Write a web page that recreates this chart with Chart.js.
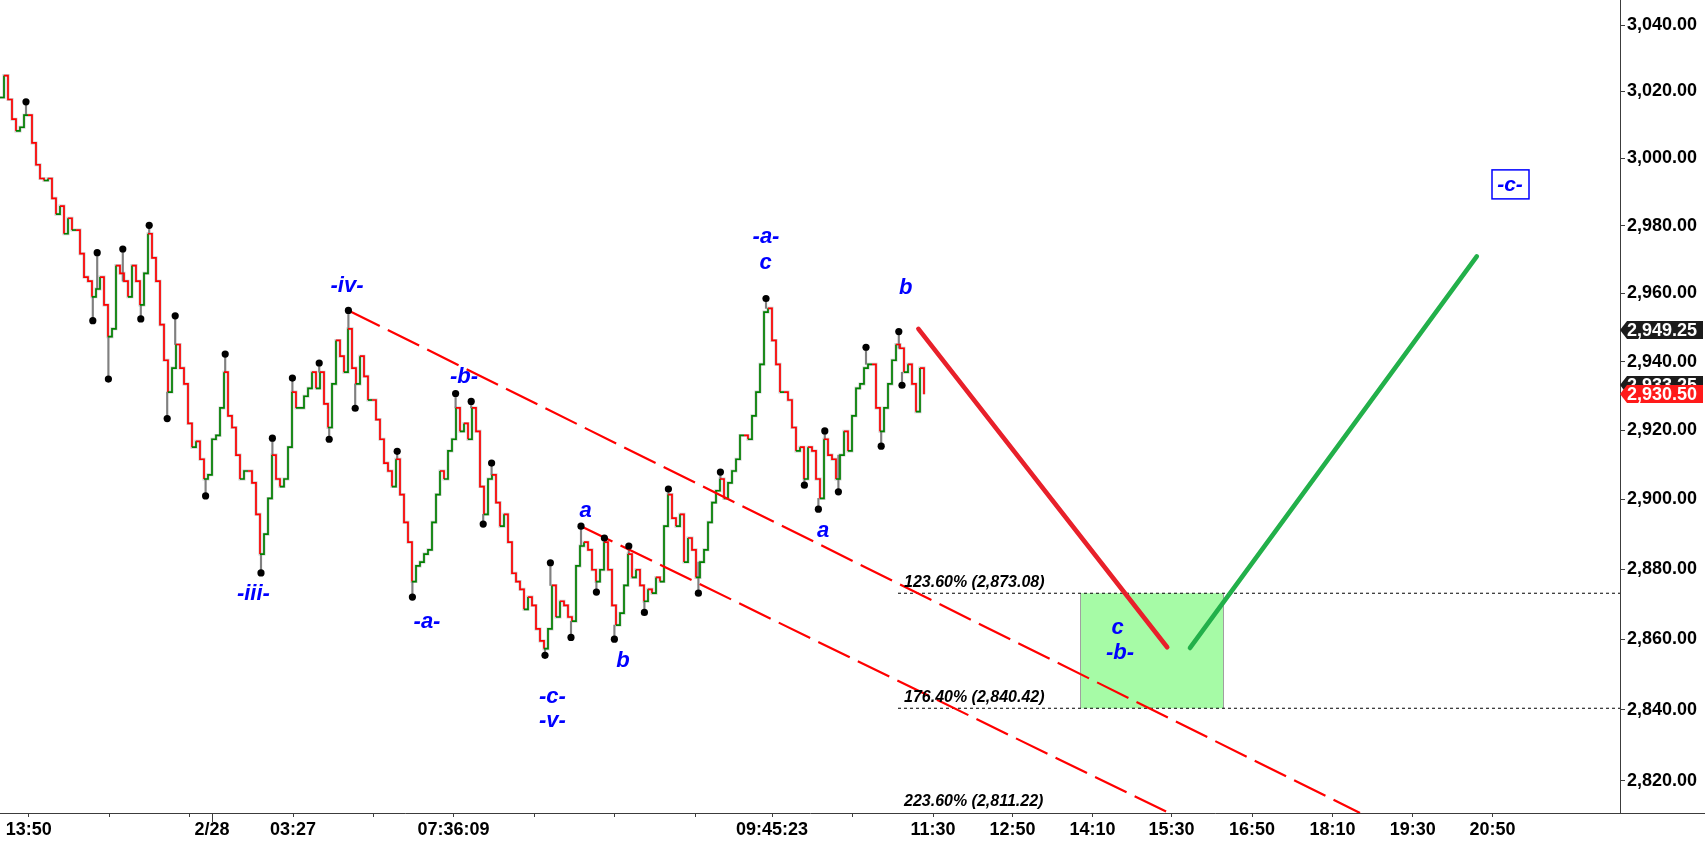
<!DOCTYPE html>
<html>
<head>
<meta charset="utf-8">
<script src="https://cdn.jsdelivr.net/npm/chart.js@4.4.1/dist/chart.umd.min.js"></script>
<style>
  html, body { margin: 0; padding: 0; background: #fff; }
  canvas { display: block; }
</style>
</head>
<body>
<canvas id="chart" width="1705" height="841"></canvas>
<script>
// closing prices, one bar per x unit
const closes = [
  3018.2, 3024.8, 3017.6, 3011.7, 3008.2, 3009.3, 3012.9, 3012.9, 3004.6, 2998.1, 2994.0, 2993.4,
  2994.0, 2988.1, 2983.4, 2985.8, 2977.6, 2982.2, 2978.7, 2978.7, 2971.7, 2964.8, 2963.6, 2959.0,
  2961.3, 2964.8, 2956.6, 2947.3, 2949.6, 2968.2, 2965.9, 2963.6, 2959.0, 2968.2, 2963.6, 2956.6,
  2965.9, 2977.6, 2970.5, 2963.6, 2950.8, 2940.4, 2931.1, 2938.1, 2945.0, 2938.1, 2933.5, 2922.0,
  2915.1, 2916.8, 2911.6, 2905.9, 2907.1, 2917.4, 2918.5, 2926.5, 2936.9, 2924.2, 2920.8, 2912.8,
  2905.9, 2908.2, 2908.2, 2904.8, 2895.7, 2884.3, 2890.0, 2900.3, 2912.8, 2905.9, 2903.7, 2905.9,
  2915.1, 2931.1, 2926.5, 2926.5, 2929.9, 2932.2, 2936.9, 2932.2, 2936.9, 2927.7, 2920.8, 2933.5,
  2946.2, 2941.6, 2936.9, 2949.6, 2938.1, 2933.5, 2941.6, 2935.7, 2928.8, 2928.8,
  2923.1, 2917.4, 2910.5, 2908.2, 2903.7, 2911.6, 2901.4, 2893.4, 2887.7, 2876.4, 2880.9, 2882.0,
  2884.3, 2885.5, 2893.4, 2901.4, 2908.2, 2905.9, 2914.0, 2917.4, 2926.5, 2919.7, 2922.0, 2917.4,
  2926.5, 2919.7, 2903.7, 2895.7, 2905.9, 2907.1, 2899.1, 2892.3, 2895.7, 2887.7, 2878.8, 2876.4,
  2874.2, 2868.5, 2872.0, 2869.6, 2862.9, 2859.5, 2857.3, 2862.9, 2875.3, 2866.3,
  2870.8, 2869.6, 2866.3, 2865.1, 2880.9, 2886.6, 2887.7, 2885.5, 2879.8, 2876.4, 2879.8, 2887.7,
  2879.8, 2869.6, 2864.0, 2867.4, 2875.3, 2884.3, 2877.6, 2879.8, 2875.3, 2870.8, 2874.2, 2873.1,
  2877.6, 2876.4, 2892.3, 2901.4, 2894.6, 2892.3, 2895.7, 2882.0, 2888.9, 2885.5, 2877.6, 2882.0,
  2885.5, 2893.4, 2899.1, 2902.5, 2905.9, 2900.3, 2904.8, 2908.2, 2911.6, 2918.5,
  2918.5, 2917.4, 2924.2, 2931.1, 2939.2, 2954.5, 2955.6, 2946.2, 2939.2, 2931.1, 2931.1, 2928.8,
  2920.8, 2914.0, 2915.1, 2905.9, 2915.1, 2914.0, 2905.9, 2900.3, 2917.4, 2912.8, 2911.6, 2905.9,
  2912.8, 2919.7, 2914.0, 2924.2, 2932.2, 2933.5, 2938.1, 2939.2, 2939.2, 2926.5, 2919.7, 2926.5,
  2933.5, 2940.4, 2945.0, 2943.9, 2936.9, 2939.2, 2933.5, 2925.4, 2938.1, 2930.5
];

// swing highs / lows (black dots)
const swingX = [6.5, 23.2, 24.3, 27.1, 30.7, 35.2, 37.3, 41.8, 43.8, 51.4, 56.3, 65.25, 68.1, 73.1,
  79.8, 82.3, 87.1, 88.8, 99.3, 103.1, 113.9, 117.8, 120.8, 122.9, 136.25, 137.6, 142.75, 145.25,
  149.1, 151.1, 153.6, 157.2, 161.1, 167.1, 174.6, 180.1, 191.5, 201.1, 204.6, 206.2, 209.6, 216.5,
  220.3, 224.7, 225.5];
const swingY = [3016.9, 2952.0, 2972.0, 2934.9, 2973.1, 2952.5, 2980.1, 2923.4, 2953.4, 2901.0, 2942.2,
  2878.9, 2917.7, 2935.2, 2939.6, 2917.4, 2955.0, 2926.4, 2913.9, 2872.0, 2930.7, 2928.4, 2892.9,
  2910.5, 2855.4, 2881.8, 2860.5, 2892.3, 2873.4, 2888.9, 2860.0, 2886.6, 2867.6, 2903.0, 2873.1,
  2907.9, 2958.5, 2904.1, 2897.2, 2919.8, 2902.2, 2944.2, 2915.4, 2948.8, 2933.1];

// axes
const yTicks = [2820, 2840, 2860, 2880, 2900, 2920, 2940, 2960, 2980, 3000, 3020, 3040];
const xTickPos = [7.2, 27.25, 47.25, 53, 73.25, 93.25, 113.4, 133.5, 153.5, 173.75, 193, 213,
  233.25, 253.1, 273.15, 292.9, 313, 333.15, 353.2, 373.1];
const xTickLabels = ["13:50", "", "", "2/28", "03:27", "", "07:36:09", "", "", "", "09:45:23", "",
  "11:30", "12:50", "14:10", "15:30", "16:50", "18:10", "19:30", "20:50"];

// fibonacci levels
const fibPct = ["123.60%", "176.40%", "223.60%"];
const fibLevels = [2873.08, 2840.42, 2811.22];

// channel lines and projections [x, price]
const channelUpper = [[87.1, 2955.0], [340, 2811.0]];
const channelLower = [[145.25, 2892.3], [292.25, 2811.0]];
const projDown = [[229.6, 2949.6], [291.8, 2857.7]];
const projUp = [[297.5, 2857.5], [369.2, 2970.9]];
const targetZone = [270, 306.1];

// wave labels
const waveText = ["-iv-", "-iii-", "-b-", "-a-", "-c-", "-v-", "a", "b", "-a-", "c", "a", "b", "c", "-b-"];
const waveX = [86.75, 63.35, 116, 106.75, 138.1, 138.1, 146.4, 155.75, 191.5, 191.4, 205.8, 226.4, 279.4, 280];
const waveY = [2962.2, 2873.0, 2935.5, 2865.0, 2843.6, 2836.8, 2896.8, 2853.9, 2976.7, 2969.0, 2890.9, 2961.5, 2863.3, 2856.1];
const boxLabel = ["-c-", 377.5, 2992.4];

// price tags on the right axis
const tagValues = [2949.25, 2933.25, 2930.50];
const tagColors = ["#1c1c1c", "#1c1c1c", "#ff1a1a"];

const FONT = "'Liberation Sans', Arial, sans-serif";
const AXIS = "#3c3c3c";
const fmt = v => v.toLocaleString("en-US", { minimumFractionDigits: 2, maximumFractionDigits: 2 });
const pts = arr => arr.map(p => ({ x: p[0], y: p[1] }));

const overlay = {
  id: "overlay",
  beforeDatasetsDraw(chart) {
    const { ctx, scales: { x, y } } = chart;
    // zone cible verte
    const x0 = Math.round(x.getPixelForValue(targetZone[0]));
    const x1 = Math.round(x.getPixelForValue(targetZone[1]));
    const y0 = y.getPixelForValue(fibLevels[0]);
    const y1 = y.getPixelForValue(fibLevels[1]);
    ctx.save();
    ctx.fillStyle = "#a6fba6";
    ctx.fillRect(x0, y0, x1 - x0, y1 - y0);
    ctx.strokeStyle = "#a0a0a0";
    ctx.lineWidth = 1;
    ctx.beginPath();
    ctx.moveTo(x0 + 0.5, y0); ctx.lineTo(x0 + 0.5, y1);
    ctx.moveTo(x1 - 0.5, y0); ctx.lineTo(x1 - 0.5, y1);
    ctx.stroke();
    ctx.restore();
  },
  afterDatasetsDraw(chart) {
    const { ctx, scales: { x, y } } = chart;
    ctx.save();
    // fib labels
    ctx.fillStyle = "#000";
    ctx.font = "italic bold 16px " + FONT;
    ctx.textAlign = "left";
    ctx.textBaseline = "alphabetic";
    fibLevels.forEach((lv, i) => {
      ctx.fillText(fibPct[i] + " (" + fmt(lv) + ")", x.getPixelForValue(226), y.getPixelForValue(lv) - 6);
    });
    // wave labels
    ctx.fillStyle = "#0000ff";
    ctx.font = "italic bold 22px " + FONT;
    ctx.textAlign = "center";
    ctx.textBaseline = "middle";
    waveText.forEach((t, i) => {
      ctx.fillText(t, x.getPixelForValue(waveX[i]), y.getPixelForValue(waveY[i]));
    });
    // boxed label
    const bx = x.getPixelForValue(boxLabel[1]);
    const by = y.getPixelForValue(boxLabel[2]);
    ctx.fillStyle = "#fff";
    ctx.fillRect(bx - 18, by - 14, 37, 29);
    ctx.strokeStyle = "#0000ff";
    ctx.lineWidth = 1.5;
    ctx.strokeRect(bx - 18, by - 14, 37, 29);
    ctx.fillStyle = "#0000ff";
    ctx.font = "italic bold 21px " + FONT;
    ctx.fillText(boxLabel[0], bx, by + 1);
    ctx.restore();
  },
  afterDraw(chart) {
    const { ctx, chartArea, scales: { x, y } } = chart;
    ctx.save();
    // x axis line continues under the price scale
    ctx.strokeStyle = AXIS;
    ctx.lineWidth = 1;
    ctx.beginPath();
    ctx.moveTo(chartArea.right, chartArea.bottom + 0.5);
    ctx.lineTo(chart.width, chartArea.bottom + 0.5);
    // longer tick for the date change
    const dx = Math.round(x.getPixelForValue(xTickPos[3])) + 0.5;
    ctx.moveTo(dx, chartArea.bottom);
    ctx.lineTo(dx, chartArea.bottom + 9);
    ctx.stroke();
    // price tags
    ctx.font = "bold 18px " + FONT;
    ctx.textAlign = "left";
    ctx.textBaseline = "middle";
    tagValues.forEach((v, i) => {
      const py = Math.round(y.getPixelForValue(v));
      const l = chartArea.right;
      ctx.fillStyle = tagColors[i];
      ctx.beginPath();
      ctx.moveTo(l, py);
      ctx.lineTo(l + 7, py - 9);
      ctx.lineTo(chart.width - 2, py - 9);
      ctx.lineTo(chart.width - 2, py + 9);
      ctx.lineTo(l + 7, py + 9);
      ctx.closePath();
      ctx.fill();
      ctx.fillStyle = "#fff";
      ctx.fillText(fmt(v), l + 7, py + 1);
    });
    ctx.restore();
  }
};

document.addEventListener("DOMContentLoaded", () => {
  const priceData = closes.map((c, i) => ({ x: i, y: c }));

  new Chart(document.getElementById("chart"), {
    type: "line",
    data: {
      datasets: [
        {
          // barres de prix
          data: priceData,
          stepped: true,
          borderWidth: 1.7,
          pointRadius: 0,
          segment: {
            borderColor: c => c.p1.parsed.y >= c.p0.parsed.y ? "#008000" : "#ff0000"
          },
          order: 5
        },
        {
          // ombre grise legere
          data: priceData,
          stepped: true,
          borderWidth: 3,
          borderColor: "rgba(128,128,128,0.4)",
          pointRadius: 0,
          order: 7
        },
        {
          // meches jusqu'aux points de swing
          type: "bar",
          data: swingX.map((v, i) => ({ x: v, y: [swingY[i], closes[Math.round(v)]] })),
          backgroundColor: "#808080",
          barThickness: 1.5,
          order: 6
        },
        {
          data: swingX.map((v, i) => ({ x: v, y: swingY[i] })),
          showLine: false,
          pointRadius: 3.6,
          pointBackgroundColor: "#000",
          pointBorderWidth: 0,
          order: 0
        },
        {
          data: pts(channelUpper), borderColor: "#ff0000", borderWidth: 2.2,
          borderDash: [35, 9], pointRadius: 0, order: 3
        },
        {
          data: pts(channelLower), borderColor: "#ff0000", borderWidth: 2.2,
          borderDash: [35, 9], pointRadius: 0, order: 3
        },
        {
          data: [{ x: 224.5, y: fibLevels[0] }, { x: 405, y: fibLevels[0] }],
          borderColor: "#000", borderWidth: 1, borderDash: [3, 3], pointRadius: 0, order: 4
        },
        {
          data: [{ x: 224.5, y: fibLevels[1] }, { x: 405, y: fibLevels[1] }],
          borderColor: "#000", borderWidth: 1, borderDash: [3, 3], pointRadius: 0, order: 4
        },
        {
          data: pts(projDown), borderColor: "#e8202a", borderWidth: 4.6,
          borderCapStyle: "round", pointRadius: 0, order: 1
        },
        {
          data: pts(projUp), borderColor: "#22b04a", borderWidth: 4.6,
          borderCapStyle: "round", pointRadius: 0, order: 1
        }
      ]
    },
    options: {
      responsive: false,
      animation: false,
      devicePixelRatio: 1,
      layout: { padding: 0, autoPadding: false },
      plugins: { legend: { display: false }, tooltip: { enabled: false } },
      elements: { line: { tension: 0 } },
      scales: {
        x: {
          type: "linear",
          min: 0,
          max: 405,
          bounds: "data",
          offset: false,
          grid: { drawOnChartArea: false, tickLength: 4, color: AXIS, offset: false },
          border: { color: AXIS },
          afterBuildTicks: s => { s.ticks = xTickPos.map(v => ({ value: v })); },
          ticks: {
            autoSkip: false, maxRotation: 0, padding: 2, color: "#000",
            font: { family: FONT, size: 18, weight: "bold" },
            callback: (v, i) => xTickLabels[i]
          },
          afterFit: s => { s.height = 28; s.paddingLeft = 0; s.paddingRight = 0; }
        },
        y: {
          type: "logarithmic",
          position: "right",
          min: 2811.0,
          max: 3047.6,
          bounds: "data",
          grid: { drawOnChartArea: false, tickLength: 5, color: AXIS },
          border: { color: AXIS },
          afterBuildTicks: s => { s.ticks = yTicks.map(v => ({ value: v })); },
          ticks: {
            autoSkip: false, padding: 2, color: "#000",
            font: { family: FONT, size: 18, weight: "bold" },
            callback: v => fmt(v)
          },
          afterFit: s => { s.width = 85; s.paddingTop = 0; s.paddingBottom = 0; }
        }
      }
    },
    plugins: [overlay]
  });
});
</script>
</body>
</html>
